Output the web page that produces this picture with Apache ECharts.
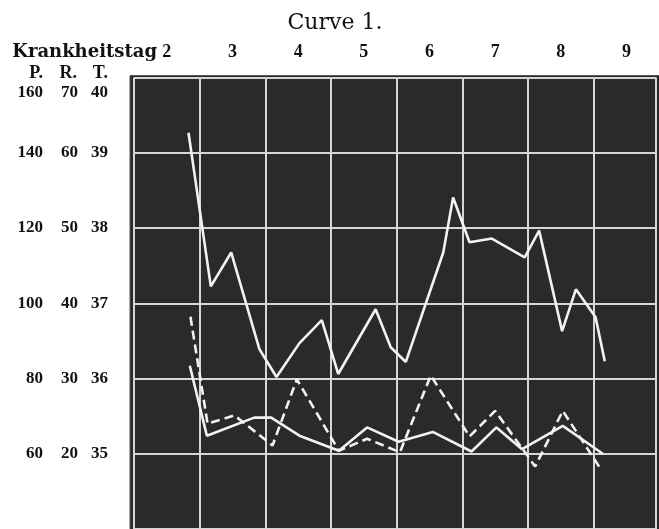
<!DOCTYPE html>
<html>
<head>
<meta charset="utf-8">
<script src="https://cdn.jsdelivr.net/npm/echarts@6/dist/echarts.min.js"></script>
<style>
html,body{margin:0;padding:0;background:#fff;}
#chart{width:659px;height:529px;}
</style>
</head>
<body>
<div id="chart"></div>
<script>
// ---- data ----
const titleText = 'Curve 1.';
const dayLabelName = 'Krankheitstag';
const days = ['2', '3', '4', '5', '6', '7', '8', '9'];
const scaleHeads = ['P.', 'R.', 'T.'];
const pTicks = [60, 80, 100, 120, 140, 160];
const rTicks = [20, 30, 40, 50, 60, 70];
const tTicks = [35, 36, 37, 38, 39, 40];

// Pulse (P scale)
const pulseTimes  = [2.83, 3.17, 3.48, 3.91, 4.17, 4.52, 4.86, 5.11, 5.68, 5.91, 6.14, 6.71, 6.86, 7.11, 7.45, 7.95, 8.17, 8.52, 8.73, 9.03, 9.17];
const pulseValues = [145.3, 104.5, 113.5, 87.8, 80.4, 89.4, 95.5, 81.2, 98.4, 88.3, 84.4, 113.5, 128.1, 116.2, 117.2, 112.2, 119.3, 92.6, 103.7, 96.3, 84.6];
// Respiration (R scale)
const respTimes  = [2.85, 3.11, 3.83, 4.09, 4.52, 5.12, 5.55, 6.03, 6.55, 7.14, 7.52, 7.91, 8.53, 9.14];
const respValues = [31.7, 22.4, 24.8, 24.8, 22.4, 20.4, 23.5, 21.6, 22.9, 20.3, 23.5, 20.6, 23.7, 20.0];
// Temperature (T scale)
const tempTimes  = [2.86, 3.12, 3.53, 4.11, 4.48, 5.12, 5.55, 6.05, 6.52, 7.11, 7.50, 8.11, 8.53, 9.12];
const tempValues = [36.82, 35.40, 35.51, 35.11, 35.99, 35.04, 35.20, 35.02, 36.04, 35.23, 35.57, 34.83, 35.57, 34.78];

// ---- chart ----
const zip = (a, b) => a.map((x, i) => [x, b[i]]);
const BOLD = 'Liberation Serif';
const lblStyle = {fontFamily: BOLD, fontWeight: 'bold', fontSize: 17, color: '#121212'};
function tickFmt(list) {
  return v => (list.indexOf(v) >= 0 && v !== list[list.length - 1]) ? String(v) : '';
}
const GRID_LEFT = 134, GRID_TOP = 77.5;
const lineCol = '#f2f2f2';

const chart = echarts.init(document.getElementById('chart'), null, {renderer: 'canvas'});
chart.setOption({
  animation: false,
  backgroundColor: '#ffffff',
  grid: {left: GRID_LEFT, top: GRID_TOP, right: 1, height: 453, show: true,
         backgroundColor: '#2a2a2a', borderWidth: 0},
  xAxis: [
    {type: 'value', min: 2, max: 9.95, interval: 1, position: 'bottom',
     axisLine: {show: false}, axisTick: {show: false}, axisLabel: {show: false},
     splitLine: {show: true, lineStyle: {color: '#d6d6d6', width: 2}}},
    {type: 'value', min: 2, max: 9.95, interval: 0.5, position: 'top',
     axisLine: {show: false}, axisTick: {show: false}, splitLine: {show: false},
     axisLabel: Object.assign({}, lblStyle, {fontSize: 18, margin: 25, verticalAlign: 'middle',
       formatter: v => {
         const f = v - Math.floor(v);
         if (Math.abs(f - 0.5) < 1e-6) {
           const i = Math.floor(v) - 2;
           return days[i] !== undefined ? days[i] : '';
         }
         return '';
       }})}
  ],
  yAxis: [
    {type: 'value', min: 40, max: 160, interval: 20, position: 'left',
     axisLine: {show: false}, axisTick: {show: false},
     splitLine: {show: true, lineStyle: {color: '#d6d6d6', width: 2}},
     axisLabel: Object.assign({}, lblStyle, {margin: 91, align: 'right', formatter: tickFmt(pTicks)})},
    {type: 'value', min: 10, max: 70, interval: 10, position: 'left',
     axisLine: {show: false}, axisTick: {show: false}, splitLine: {show: false},
     axisLabel: Object.assign({}, lblStyle, {margin: 56, align: 'right', formatter: tickFmt(rTicks)})},
    {type: 'value', min: 34, max: 40, interval: 1, position: 'left',
     axisLine: {show: false}, axisTick: {show: false}, splitLine: {show: false},
     axisLabel: Object.assign({}, lblStyle, {margin: 26, align: 'right', formatter: tickFmt(tTicks)})}
  ],
  graphic: [
    {type: 'rect', z: -10, shape: {x: 130, y: 75.5, width: 540, height: 470},
     style: {fill: '#2a2a2a', stroke: '#555', lineWidth: 1}},
    {type: 'text', x: 335, y: 23, style: {text: titleText, align: 'center', verticalAlign: 'middle',
      font: '22px "DejaVu Serif"', fill: '#121212'}},
    {type: 'text', x: 157, y: 52, style: {text: dayLabelName, align: 'right', verticalAlign: 'middle',
      font: 'bold 18px "DejaVu Serif"', fill: '#121212'}},
    {type: 'text', x: 43, y: 73.5, style: {text: scaleHeads[0], align: 'right', verticalAlign: 'middle', font: 'bold 18px "Liberation Serif"', fill: '#121212'}},
    {type: 'text', x: 77, y: 73.5, style: {text: scaleHeads[1], align: 'right', verticalAlign: 'middle', font: 'bold 18px "Liberation Serif"', fill: '#121212'}},
    {type: 'text', x: 108, y: 73.5, style: {text: scaleHeads[2], align: 'right', verticalAlign: 'middle', font: 'bold 18px "Liberation Serif"', fill: '#121212'}},
    {type: 'text', x: 43, y: 92.5, style: {text: String(pTicks[pTicks.length - 1]), align: 'right', verticalAlign: 'middle', font: 'bold 17px "Liberation Serif"', fill: '#121212'}},
    {type: 'text', x: 78, y: 92.5, style: {text: String(rTicks[rTicks.length - 1]), align: 'right', verticalAlign: 'middle', font: 'bold 17px "Liberation Serif"', fill: '#121212'}},
    {type: 'text', x: 108, y: 92.5, style: {text: String(tTicks[tTicks.length - 1]), align: 'right', verticalAlign: 'middle', font: 'bold 17px "Liberation Serif"', fill: '#121212'}}
  ],
  series: [
    {name: 'P.', type: 'line', xAxisIndex: 0, yAxisIndex: 0, data: zip(pulseTimes, pulseValues),
     showSymbol: false, lineStyle: {color: lineCol, width: 2.6}},
    {name: 'R.', type: 'line', xAxisIndex: 0, yAxisIndex: 1, data: zip(respTimes, respValues),
     showSymbol: false, lineStyle: {color: lineCol, width: 2.6}},
    {name: 'T.', type: 'line', xAxisIndex: 0, yAxisIndex: 2, data: zip(tempTimes, tempValues),
     showSymbol: false, lineStyle: {color: lineCol, width: 2.6, type: [9, 5]}}
  ]
});
</script>
</body>
</html>
